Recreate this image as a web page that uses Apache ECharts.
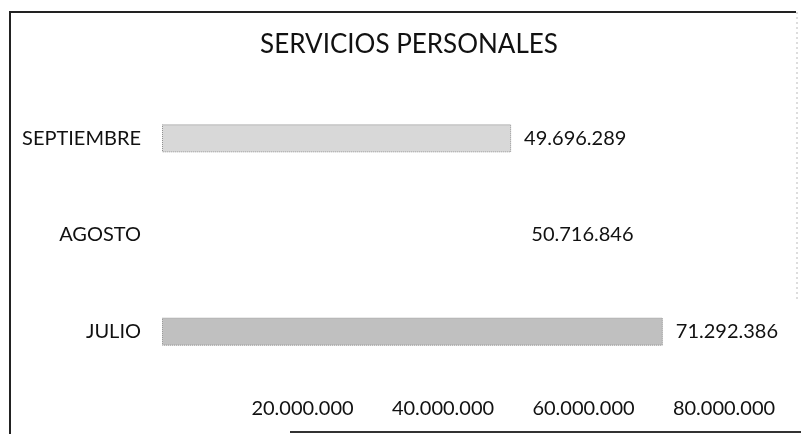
<!DOCTYPE html>
<html><head><meta charset="utf-8">
<script src="https://cdn.jsdelivr.net/npm/echarts@6/dist/echarts.min.js"></script>
<style>html,body{margin:0;padding:0;background:#fff}#c{width:801px;height:434px}</style>
</head><body><div id="c"></div>
<script>
var titleText = 'SERVICIOS PERSONALES';
var categories = ['JULIO', 'AGOSTO', 'SEPTIEMBRE'];
var values = [71292386, 50716846, 49696289];
var barColors = ['#c0c0c0', '#ffffff', '#d8d8d8'];
var tickLabels = ['', '20.000.000', '40.000.000', '60.000.000', '80.000.000'];

function fmt(v){ return String(Math.round(v)).replace(/\B(?=(\d{3})+(?!\d))/g, '.'); }
var font = 'Lato, "Open Sans", sans-serif';
var chart = echarts.init(document.getElementById('c'));
chart.setOption({
  animation: false,
  backgroundColor: '#fff',
  title: { text: titleText, left: 404, textAlign: 'center', top: 27,
    textStyle: { fontFamily: font, fontWeight: 'normal', fontSize: 26, color: '#111' } },
  graphic: [
    { type: 'line', shape: { x1: 10, y1: 12, x2: 796, y2: 12 }, style: { stroke: '#222', lineWidth: 2 } },
    { type: 'line', shape: { x1: 10, y1: 11, x2: 10, y2: 434 }, style: { stroke: '#222', lineWidth: 2 } },
    { type: 'line', shape: { x1: 290, y1: 432, x2: 801, y2: 432 }, style: { stroke: '#333', lineWidth: 2 } },
    { type: 'line', shape: { x1: 797, y1: 12, x2: 797, y2: 300 }, style: { stroke: '#bbb', lineWidth: 1, lineDash: [2, 3] } }
  ],
  grid: { left: 162, right: 77, top: 90, bottom: 54 },
  xAxis: { type: 'value', min: 0, max: 80000000, interval: 20000000,
    axisLine: { show: false }, axisTick: { show: false }, splitLine: { show: false },
    axisLabel: { margin: 19, fontFamily: font, fontSize: 20, color: '#111',
      formatter: function(v){ return tickLabels[Math.round(v / 20000000)]; } } },
  yAxis: { type: 'category', data: categories,
    axisLine: { show: false }, axisTick: { show: false },
    axisLabel: { margin: 21, fontFamily: font, fontSize: 20, color: '#111' } },
  series: [{ type: 'bar', barWidth: 28,
    data: values.map(function(v, i){ return { value: v, itemStyle: { color: barColors[i],
      borderColor: i === 1 ? '#fff' : '#8a8a8a', borderWidth: 1, borderType: 'dotted' } }; }),
    label: { show: true, position: 'right', distance: 13, fontFamily: font, fontSize: 20, color: '#111',
      formatter: function(p){ return fmt(p.value); } } }]
});
</script></body></html>
